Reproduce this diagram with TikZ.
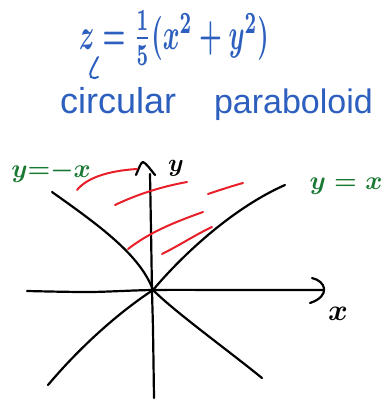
\RequirePackage{fix-cm}
\documentclass[tikz,border=0pt]{standalone}
\usepackage{fontspec}
\setmainfont{Liberation Sans}
\usepackage{graphicx}
\definecolor{inkblue}{RGB}{45,95,190}
\definecolor{inkgreen}{RGB}{25,120,50}
\definecolor{inkred}{RGB}{232,30,40}
\begin{document}
\begin{tikzpicture}[x=1pt,y=-1pt,
  axisline/.style={line width=2.2pt, black, line cap=round, line join=round},
  hatch/.style={line width=2pt, inkred, line cap=round},
  bluetext/.style={text=inkblue, inner sep=0pt},
  greentext/.style={text=inkgreen, inner sep=0pt}]
\useasboundingbox (0,0) rectangle (386,400);

% formula
\node[bluetext] (eq) at (174,38) {\scalebox{2.56}[4.4]{\mathversion{bold}$z=\frac{1}{5}(x^2+y^2)$}};
\draw[inkblue, line width=2pt, line cap=round] (98,57) .. controls (94,65) and (88,74) .. (91,77) .. controls (93,79) and (96,78) .. (98,77);
\node[bluetext, font=\fontsize{36}{40}\selectfont, anchor=base west] (w1) at (60,113) {circular};
\node[bluetext, font=\fontsize{34}{40}\selectfont, anchor=base east] (w2) at (373,113) {paraboloid};

% axes
\draw[axisline] plot[smooth] coordinates {(27,291) (90,292) (153,290) (240,290) (323,290)};
\draw[axisline] (312,278) .. controls (326,281) and (331,296) .. (310,303);
\draw[axisline] plot[smooth] coordinates {(154,398) (153,330) (152,290) (151,230) (150,174)};
\draw[axisline] (136,175) .. controls (139,168) and (141,162) .. (143,162) .. controls (146,163) and (151,170) .. (155,175);
\node[font=\fontsize{30}{32}\selectfont\mathversion{bold}, inner sep=0pt] (xl) at (338,314) {$x$};
\node[font=\fontsize{25}{28}\selectfont\mathversion{bold}, inner sep=0pt] (yl) at (176,168) {$y$};

% diagonals
\coordinate (o) at (153,290);
\draw[axisline] (48,385) .. controls (80,347) and (118,313) .. (o);
\draw[axisline] (o) .. controls (185,252) and (235,207) .. (285,185);
\draw[axisline] (52,192) .. controls (100,226) and (140,255) .. (o);
\draw[axisline] (o) .. controls (175,312) and (225,348) .. (262,378);
\node[greentext, font=\fontsize{26}{30}\selectfont\mathversion{bold}] (lm) at (51,172) {$y{=}{-}x$};
\node[greentext, font=\fontsize{26}{30}\selectfont\mathversion{bold}] (lp) at (346,186) {$y=x$};

% red hatching
\draw[hatch] (77,190) .. controls (86,179) and (105,171) .. (137,169);
\draw[hatch] (115,205) .. controls (140,193) and (165,186) .. (187,182);
\draw[hatch] (208,194) .. controls (220,190) and (232,186) .. (243,183);
\draw[hatch] (128,249) .. controls (150,232) and (175,222) .. (203,212);
\draw[hatch] (162,254) .. controls (180,245) and (195,235) .. (212,227);
\end{tikzpicture}
\end{document}
